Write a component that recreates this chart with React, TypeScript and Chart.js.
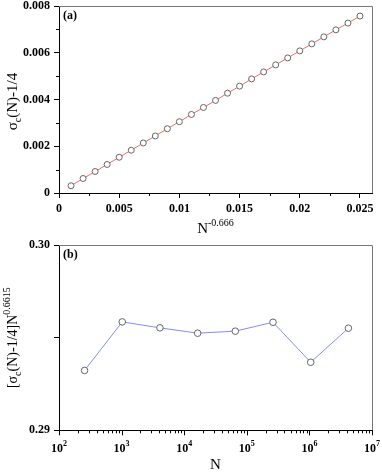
import React, { useEffect, useRef } from 'react';
import { Chart, registerables } from 'chart.js';
Chart.register(...registerables);

// Panel (a)
const xA = [0.001, 0.002, 0.003, 0.004, 0.005, 0.006, 0.007, 0.008, 0.009, 0.010, 0.011, 0.012, 0.013, 0.014, 0.015, 0.016, 0.017, 0.018, 0.019, 0.020, 0.021, 0.022, 0.023, 0.024, 0.025];
const yA = [0.00031, 0.00062, 0.00092, 0.00122, 0.00153, 0.00183, 0.00214, 0.00244, 0.00275, 0.00305, 0.00336, 0.00366, 0.00396, 0.00427, 0.00457, 0.00488, 0.00518, 0.00548, 0.00578, 0.00608, 0.00638, 0.00668, 0.00698, 0.00727, 0.00757];
const xTicksA = [0, 0.005, 0.01, 0.015, 0.02, 0.025];
const xMinorA = [0.0025, 0.0075, 0.0125, 0.0175, 0.0225];
const yTicksA = [0, 0.002, 0.004, 0.006, 0.008];
const yMinorA = [0.001, 0.003, 0.005, 0.007];

// Panel (b)
const nB = [256, 1024, 4096, 16384, 65536, 262144, 1048576, 4194304];
const yB = [0.29323, 0.29585, 0.29553, 0.29524, 0.29535, 0.29583, 0.29367, 0.29551];
const xExpB = [2, 3, 4, 5, 6, 7];
const yTicksB = [0.29, 0.295, 0.30];

const W = 382;
const H_TOP = 240;
const H_BOT = 234;
const SERIF = '"Liberation Serif", "Times New Roman", serif';
const FRAME = '#777777';

function drawRich(ctx: CanvasRenderingContext2D, parts: { t: string; s: number; dy: number }[], cx: number, cy: number, rot: boolean) {
  ctx.save();
  ctx.translate(cx, cy);
  if (rot) ctx.rotate(-Math.PI / 2);
  ctx.fillStyle = '#000';
  ctx.textBaseline = 'alphabetic';
  ctx.textAlign = 'left';
  let total = 0;
  for (const p of parts) {
    ctx.font = `${p.s}px ${SERIF}`;
    total += ctx.measureText(p.t).width;
  }
  let x = -total / 2;
  for (const p of parts) {
    ctx.font = `${p.s}px ${SERIF}`;
    ctx.fillText(p.t, x, 5 + p.dy);
    x += ctx.measureText(p.t).width;
  }
  ctx.restore();
}

function frame(chart: any) {
  const { ctx, chartArea: a } = chart;
  ctx.save();
  ctx.strokeStyle = FRAME;
  ctx.lineWidth = 1;
  ctx.beginPath();
  ctx.moveTo(a.left, a.top + 0.5);
  ctx.lineTo(a.right + 0.5, a.top + 0.5);
  ctx.lineTo(a.right + 0.5, a.bottom);
  ctx.stroke();
  ctx.restore();
}

const topPlugin = {
  id: 'topDecor',
  afterDraw(chart: any) {
    const { ctx, chartArea: a, scales } = chart;
    frame(chart);
    ctx.save();
    ctx.strokeStyle = '#000';
    ctx.lineWidth = 1;
    ctx.beginPath();
    for (const v of xMinorA) {
      const px = Math.round(scales.x.getPixelForValue(v)) + 0.5;
      ctx.moveTo(px, a.bottom);
      ctx.lineTo(px, a.bottom + 3);
    }
    for (const v of yMinorA) {
      const py = Math.round(scales.y.getPixelForValue(v)) + 0.5;
      ctx.moveTo(a.left, py);
      ctx.lineTo(a.left - 3, py);
    }
    ctx.stroke();
    ctx.fillStyle = '#000';
    ctx.font = `bold 12px ${SERIF}`;
    ctx.textAlign = 'left';
    ctx.textBaseline = 'top';
    ctx.fillText('(a)', a.left + 4, a.top + 4);
    ctx.restore();
    drawRich(ctx, [
      { t: 'σ', s: 15, dy: 0 },
      { t: 'c', s: 10, dy: 4 },
      { t: '(N)-1/4', s: 15, dy: 0 },
    ], 12, (a.top + a.bottom) / 2 + 2, true);
    drawRich(ctx, [
      { t: 'N', s: 15, dy: 0 },
      { t: '-0.666', s: 10, dy: -7 },
    ], (a.left + a.right) / 2, 228, false);
  },
};

const botPlugin = {
  id: 'botDecor',
  afterDraw(chart: any) {
    const { ctx, chartArea: a, scales } = chart;
    frame(chart);
    ctx.save();
    ctx.strokeStyle = '#000';
    ctx.lineWidth = 1;
    ctx.beginPath();
    for (let e = xExpB[0]; e < xExpB[xExpB.length - 1]; e++) {
      for (let m = 2; m <= 9; m++) {
        const px = Math.round(scales.x.getPixelForValue(m * Math.pow(10, e))) + 0.5;
        ctx.moveTo(px, a.bottom);
        ctx.lineTo(px, a.bottom + 3);
      }
    }
    for (const e of xExpB) {
      const px = Math.round(scales.x.getPixelForValue(Math.pow(10, e))) + 0.5;
      ctx.moveTo(px, a.bottom);
      ctx.lineTo(px, a.bottom + 5);
    }
    ctx.stroke();
    // tick labels 10^e
    ctx.fillStyle = '#000';
    ctx.textBaseline = 'alphabetic';
    ctx.textAlign = 'left';
    for (const e of xExpB) {
      const px = scales.x.getPixelForValue(Math.pow(10, e));
      ctx.font = `bold 12px ${SERIF}`;
      const w1 = ctx.measureText('10').width;
      ctx.font = `bold 8px ${SERIF}`;
      const w2 = ctx.measureText(String(e)).width;
      const x0 = px - (w1 + w2) / 2;
      const base = a.bottom + 22;
      ctx.font = `bold 12px ${SERIF}`;
      ctx.fillText('10', x0, base);
      ctx.font = `bold 8px ${SERIF}`;
      ctx.fillText(String(e), x0 + w1, base - 6);
    }
    ctx.font = `bold 12px ${SERIF}`;
    ctx.textBaseline = 'top';
    ctx.fillText('(b)', a.left + 4, a.top + 4);
    ctx.restore();
    drawRich(ctx, [
      { t: '[σ', s: 14, dy: 0 },
      { t: 'c', s: 10, dy: 4 },
      { t: '(N)-1/4]N', s: 14, dy: 0 },
      { t: '0.6615', s: 10, dy: -7 },
    ], 12, (a.top + a.bottom) / 2, true);
    drawRich(ctx, [{ t: 'N', s: 15, dy: 0 }], (a.left + a.right) / 2, a.bottom + 34, false);
  },
};

function fmt(v: number) {
  return String(Number(v.toFixed(5)));
}

function noPadY(s: any) {
  s.width = 59;
  s.paddingTop = 0;
  s.paddingBottom = 0;
}

export default function App() {
  const topRef = useRef<HTMLCanvasElement>(null);
  const botRef = useRef<HTMLCanvasElement>(null);

  useEffect(() => {
    const tickFont = { family: SERIF, size: 12, weight: 'bold' as const };
    const c1 = new Chart(topRef.current!, {
      type: 'scatter',
      data: {
        datasets: [{
          data: xA.map((x, i) => ({ x, y: yA[i] })),
          showLine: true,
          borderColor: '#f06a6a',
          borderWidth: 1,
          pointRadius: 3,
          pointBackgroundColor: '#ffffff',
          pointBorderColor: '#666666',
          pointBorderWidth: 1,
        }],
      },
      options: {
        animation: false,
        responsive: false,
        events: [],
        layout: { padding: { top: 6, right: 10, left: 0, bottom: 0 } },
        plugins: { legend: { display: false }, tooltip: { enabled: false } },
        scales: {
          x: {
            type: 'linear', min: 0, max: 0.026,
            afterBuildTicks: (s: any) => { s.ticks = xTicksA.map((v) => ({ value: v })); },
            afterFit: (s: any) => { s.height = H_TOP - 193; s.paddingLeft = 0; s.paddingRight = 0; },
            ticks: { font: tickFont, color: '#000', padding: 4, maxRotation: 0, callback: (v: any) => fmt(Number(v)) },
            grid: { display: true, drawOnChartArea: false, drawTicks: true, tickLength: 5, color: '#000' },
            border: { display: true, color: '#000', width: 1 },
          },
          y: {
            type: 'linear', min: 0, max: 0.008,
            afterBuildTicks: (s: any) => { s.ticks = yTicksA.map((v) => ({ value: v })); },
            afterFit: noPadY,
            ticks: { font: tickFont, color: '#000', padding: 4, callback: (v: any) => fmt(Number(v)) },
            grid: { display: true, drawOnChartArea: false, drawTicks: true, tickLength: 5, color: '#000' },
            border: { display: true, color: '#000', width: 1 },
          },
        },
      },
      plugins: [topPlugin],
    });

    const c2 = new Chart(botRef.current!, {
      type: 'scatter',
      data: {
        datasets: [{
          data: nB.map((x, i) => ({ x, y: yB[i] })),
          showLine: true,
          borderColor: '#8888ff',
          borderWidth: 1,
          pointRadius: 3.3,
          pointBackgroundColor: '#ffffff',
          pointBorderColor: '#666666',
          pointBorderWidth: 1,
        }],
      },
      options: {
        animation: false,
        responsive: false,
        events: [],
        layout: { padding: { top: 3.3, right: 10, left: 0, bottom: 0 } },
        plugins: { legend: { display: false }, tooltip: { enabled: false } },
        scales: {
          x: {
            type: 'logarithmic', min: 100, max: 1e7,
            afterFit: (s: any) => { s.height = H_BOT - 190.3; s.paddingLeft = 0; s.paddingRight = 0; },
            ticks: { display: false },
            grid: { display: false },
            border: { display: true, color: '#000', width: 1 },
          },
          y: {
            type: 'linear', min: 0.29, max: 0.30,
            afterBuildTicks: (s: any) => { s.ticks = yTicksB.map((v) => ({ value: v })); },
            afterFit: noPadY,
            ticks: {
              font: tickFont, color: '#000', padding: 4,
              callback: (v: any) => (Math.abs(Number(v) - 0.295) < 1e-6 ? '' : Number(v).toFixed(2)),
            },
            grid: { display: true, drawOnChartArea: false, drawTicks: true, tickLength: 5, color: '#000' },
            border: { display: true, color: '#000', width: 1 },
          },
        },
      },
      plugins: [botPlugin],
    });

    return () => { c1.destroy(); c2.destroy(); };
  }, []);

  return (
    <div style={{ position: 'absolute', left: 0, top: 0, width: W, height: H_TOP + H_BOT, background: '#fff' }}>
      <canvas ref={topRef} width={W} height={H_TOP} style={{ position: 'absolute', left: 0, top: 0, width: W, height: H_TOP }} />
      <canvas ref={botRef} width={W} height={H_BOT} style={{ position: 'absolute', left: 0, top: H_TOP, width: W, height: H_BOT }} />
    </div>
  );
}
